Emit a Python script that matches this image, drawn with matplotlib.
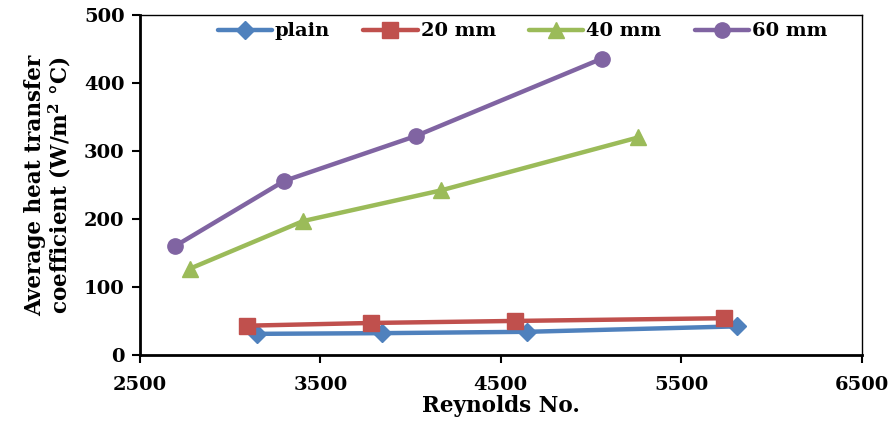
import matplotlib
matplotlib.use("Agg")
import matplotlib.pyplot as plt

plt.rcParams['font.family'] = ['DejaVu Serif']
plt.rcParams['font.weight'] = 'bold'
plt.rcParams['mathtext.fontset'] = 'dejavuserif'
plt.rcParams['mathtext.default'] = 'bf'

plain_x = [3150, 3840, 4645, 5810]
plain_y = [31, 32, 34, 42]
mm20_x = [3095, 3780, 4580, 5740]
mm20_y = [43, 47, 50, 54]
mm40_x = [2778, 3405, 4167, 5261]
mm40_y = [127, 197, 242, 320]
mm60_x = [2694, 3300, 4028, 5060]
mm60_y = [160, 256, 322, 436]

series = [
    ("plain", plain_x, plain_y, "#4F81BD", "D", 9),
    ("20 mm", mm20_x, mm20_y, "#C0504D", "s", 11),
    ("40 mm", mm40_x, mm40_y, "#9BBB59", "^", 11),
    ("60 mm", mm60_x, mm60_y, "#8064A2", "o", 11),
]

xticks = [2500, 3500, 4500, 5500, 6500]
yticks = [0, 100, 200, 300, 400, 500]

fig = plt.figure(figsize=(8.91, 4.21), dpi=100)
ax = fig.add_axes([0.157, 0.157, 0.81, 0.807])

for name, xs, ys, c, m, ms in series:
    ax.plot(xs, ys, color=c, lw=3.2, marker=m, ms=ms, label=name,
            solid_capstyle='round', solid_joinstyle='round')

ax.set_xlim(2500, 6500)
ax.set_ylim(0, 500)
ax.set_xticks(xticks)
ax.set_yticks(yticks)
ax.tick_params(axis='both', labelsize=14, direction='out', length=6, width=1.5)
ax.tick_params(axis='x', pad=9)
ax.tick_params(axis='y', pad=5)
for lbl in ax.get_xticklabels() + ax.get_yticklabels():
    lbl.set_fontweight('bold')
for s in ['left', 'bottom']:
    ax.spines[s].set_linewidth(2)
for s in ['top', 'right']:
    ax.spines[s].set_linewidth(1)

ax.set_xlabel("Reynolds No.", fontsize=15.5, fontweight='bold', labelpad=1)
ax.set_ylabel("Average heat transfer\ncoefficient (W/m$^2$ °C)", fontsize=15.5,
              fontweight='bold', labelpad=8, linespacing=1.0)

leg = ax.legend(loc='upper center', bbox_to_anchor=(0.53, 1.03), ncol=4, frameon=False,
                handlelength=2.8, columnspacing=1.7, handletextpad=0.15,
                prop={'weight': 'bold', 'size': 14})

fig.savefig("out.png", dpi=100)
